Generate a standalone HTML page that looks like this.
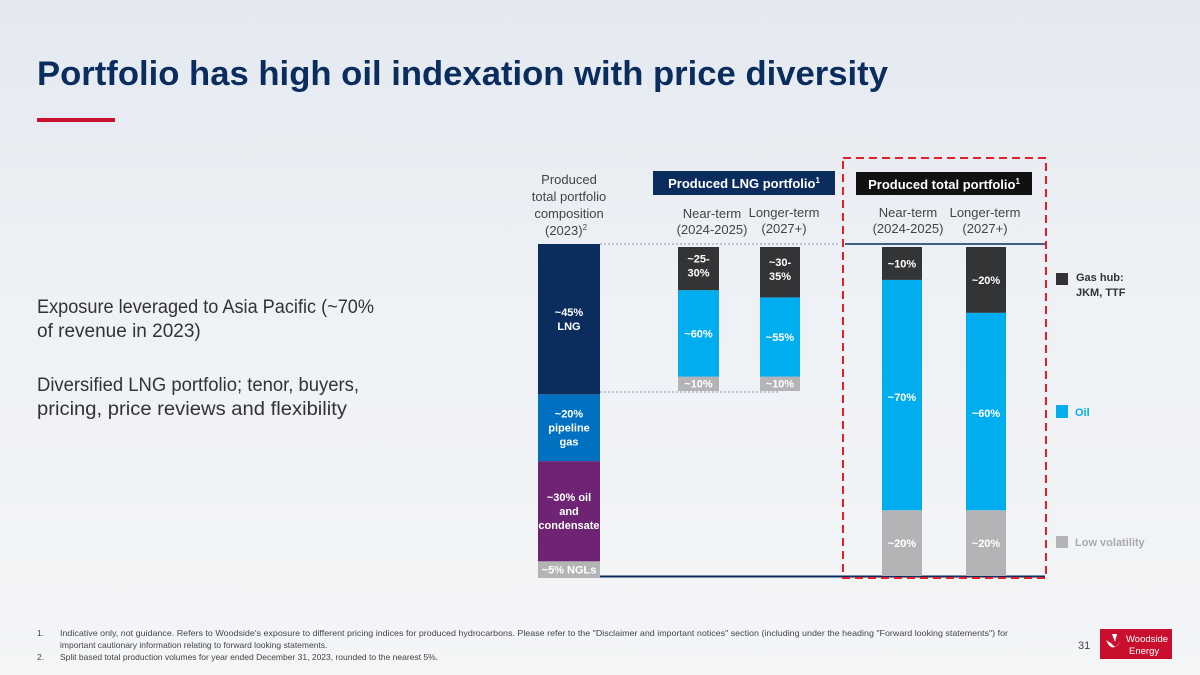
<!DOCTYPE html>
<html><head><meta charset="utf-8"><style>
html,body{margin:0;padding:0;width:1200px;height:675px;overflow:hidden}
body{background:linear-gradient(180deg,#e4e9f0 0%,#eef1f5 45%,#f3f5f7 100%);font-family:"Liberation Sans",sans-serif}
svg{position:absolute;left:0;top:0}
</style></head><body>
<svg id="chart" width="1200" height="675">
<text x="37" y="85" font-size="34" font-weight="bold" fill="#0b2d5e" textLength="851" lengthAdjust="spacingAndGlyphs">Portfolio has high oil indexation with price diversity</text>
<rect x="37" y="118" width="78" height="4" fill="#c8102e"/>
<g font-size="19" fill="#333">
<text x="37" y="313" textLength="337" lengthAdjust="spacingAndGlyphs">Exposure leveraged to Asia Pacific (~70%</text>
<text x="37" y="337">of revenue in 2023)</text>
<text x="37" y="391" textLength="322" lengthAdjust="spacingAndGlyphs">Diversified LNG portfolio; tenor, buyers,</text>
<text x="37" y="415" textLength="310" lengthAdjust="spacingAndGlyphs">pricing, price reviews and flexibility</text>
</g>
<g font-size="13" fill="#444" text-anchor="middle">
<text x="569" y="184">Produced</text><text x="569" y="201">total portfolio</text><text x="569" y="218">composition</text><text x="566" y="235">(2023)<tspan font-size="8" dy="-5">2</tspan></text>
<text x="712" y="218">Near-term</text><text x="712" y="234">(2024-2025)</text>
<text x="784" y="217">Longer-term</text><text x="784" y="233">(2027+)</text>
<text x="908" y="217">Near-term</text><text x="908" y="233">(2024-2025)</text>
<text x="985" y="217">Longer-term</text><text x="985" y="233">(2027+)</text>
</g>
<rect x="653" y="171" width="182" height="24" fill="#0b2d5e"/>
<text x="744" y="188" font-size="13" font-weight="bold" fill="#fff" text-anchor="middle">Produced LNG portfolio<tspan font-size="8" dy="-5">1</tspan></text>
<rect x="856" y="172" width="176" height="23" fill="#111"/>
<text x="944" y="189" font-size="13" font-weight="bold" fill="#fff" text-anchor="middle">Produced total portfolio<tspan font-size="8" dy="-5">1</tspan></text>
<line x1="600" y1="244" x2="840" y2="244" stroke="#8a9bb0" stroke-dasharray="2,2"/>
<line x1="600" y1="392" x2="780" y2="392" stroke="#8a9bb0" stroke-dasharray="2,2"/>
<line x1="845" y1="244" x2="1045" y2="244" stroke="#0b2d5e" stroke-width="1.5"/>
<line x1="600" y1="576.5" x2="1045" y2="576.5" stroke="#0b2d5e" stroke-width="2"/>
<g id="bars"></g>
<rect x="843" y="158" width="203" height="420" fill="none" stroke="#e32028" stroke-width="2" stroke-dasharray="8,5"/>
<g font-size="11" font-weight="bold">
<rect x="1056" y="273" width="12" height="12" fill="#333"/>
<text x="1076" y="281" fill="#333">Gas hub:</text><text x="1076" y="296" fill="#333">JKM, TTF</text>
<rect x="1056" y="405" width="12" height="13" fill="#00aeef"/>
<text x="1075" y="416" fill="#00aeef">Oil</text>
<rect x="1056" y="536" width="12" height="12" fill="#b4b4b6"/>
<text x="1075" y="546" fill="#aaa">Low volatility</text>
</g>
<g font-size="8.5" fill="#444">
<text x="37" y="636">1.</text><text x="60" y="636" textLength="948" lengthAdjust="spacingAndGlyphs">Indicative only, not guidance. Refers to Woodside's exposure to different pricing indices for produced hydrocarbons. Please refer to the "Disclaimer and important notices" section (including under the heading "Forward looking statements") for</text>
<text x="60" y="648">important cautionary information relating to forward looking statements.</text>
<text x="37" y="660">2.</text><text x="60" y="660">Split based total production volumes for year ended December 31, 2023, rounded to the nearest 5%.</text>
</g>
<text x="1078" y="649" font-size="11" fill="#444">31</text>
<g>
<rect x="1100" y="629" width="72" height="30" fill="#c8102e"/>
<path d="M1106 640 q6 14 14 2 q-4 8 -8 2z M1112 634 l3 8 l2-8z" fill="#fff"/>
<text x="1126" y="642" font-size="9.5" fill="#fff">Woodside</text>
<text x="1129" y="654" font-size="9.5" fill="#fff">Energy</text>
</g>
</svg>
<script>
// data
const compLabels = ["~45%\nLNG","~20%\npipeline\ngas","~30% oil\nand\ncondensate","~5% NGLs"];
const compValues = [45,20,30,5];
const compColors = ["#0b2d5e","#0070c0","#6e2473","#b4b4b6"];
const stackCats = ["lng-near","lng-longer","total-near","total-longer"];
const lowVol = [10,10,20,20];
const oil = [60,55,70,60];
const gasHub = [30,35,10,20];
const lowVolLabels = ["~10%","~10%","~20%","~20%"];
const oilLabels = ["~60%","~55%","~70%","~60%"];
const gasLabels = ["~25-\n30%","~30-\n35%","~10%","~20%"];

const NS="http://www.w3.org/2000/svg";
const g=document.getElementById('bars');
function rect(x,y,w,h,f){const r=document.createElementNS(NS,'rect');r.setAttribute('x',x);r.setAttribute('y',y);r.setAttribute('width',w);r.setAttribute('height',h);r.setAttribute('fill',f);g.appendChild(r);return r;}
function label(cx,cy,txt,col,size){const lines=txt.split("\n");const lh=size+3;const t=document.createElementNS(NS,'text');t.setAttribute('text-anchor','middle');t.setAttribute('font-size',size);t.setAttribute('font-weight','bold');t.setAttribute('fill',col);
lines.forEach((l,i)=>{const s=document.createElementNS(NS,'tspan');s.setAttribute('x',cx);s.setAttribute('y',cy-(lines.length-1)*lh/2+i*lh+size*0.35);s.textContent=l;t.appendChild(s);});


g.appendChild(t);}
const compScale=v=>v*334/100;
let y=578;
for(let i=compValues.length-1;i>=0;i--){const h=compScale(compValues[i]);y-=h;const r=rect(538,y,62,h,compColors[i]);


label(569,y+h/2,compLabels[i],"#fff",11);}
const xs=[678,760,882,966], ws=[41,40,40,40], bottoms=[391,391,576,576], scales=[144,144,329,329];
for(let i=0;i<stackCats.length;i++){
 const sc=v=>v*scales[i]/100;let yy=bottoms[i];
 const segs=[[lowVol[i],"#b4b4b6",lowVolLabels[i],'low-volatility'],[oil[i],"#00aeef",oilLabels[i],'oil'],[gasHub[i],"#333436",gasLabels[i],'gas-hub']];
 segs.forEach(s=>{const h=sc(s[0]);yy-=h;const r=rect(xs[i],yy,ws[i],h,s[1]);
 
 
 let cy=yy+h/2;
 if(i>=2&&s[3]=='oil') cy=yy+h-(i==2?113:97);
 if(i<2&&s[3]=='gas-hub') cy=yy+h/2-3;
 label(xs[i]+ws[i]/2,cy,s[2],"#fff",11);});
}
</script>
</body></html>
